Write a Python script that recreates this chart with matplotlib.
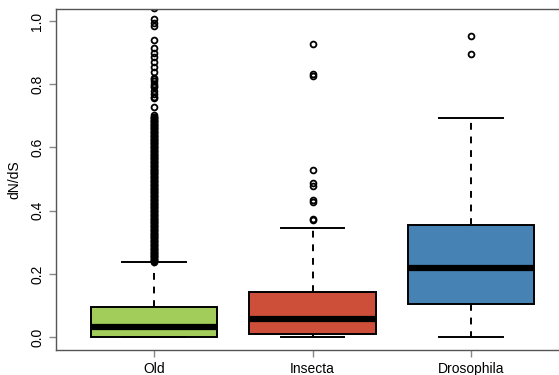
import numpy as np
import matplotlib
matplotlib.use('Agg')
import matplotlib.pyplot as plt

plt.rcParams.update({'font.family': ['Liberation Sans', 'DejaVu Sans'], 'font.size': 10})

groups = ['Old', 'Insecta', 'Drosophila']
colors = ['#A2CD5A', '#CD4F39', '#4682B4']

q1 = [0.0, 0.0085, 0.103]
med = [0.032, 0.057, 0.219]
q3 = [0.095, 0.143, 0.353]
whislo = [0.0, 0.0, 0.0]
whishi = [0.236, 0.345, 0.693]

# Old: sparse outliers at the top, then a dense run down to the whisker
old_fliers = [1.042, 1.006, 0.995, 0.984, 0.939, 0.914, 0.900, 0.885, 0.870,
              0.855, 0.840, 0.820, 0.815, 0.810, 0.800, 0.795, 0.790, 0.780,
              0.770, 0.760, 0.755, 0.729, 0.703,
              0.695, 0.690, 0.685, 0.680, 0.675, 0.670, 0.665, 0.660, 0.655,
              0.650, 0.645, 0.640, 0.635, 0.630, 0.625, 0.620, 0.615, 0.610,
              0.605, 0.600, 0.595, 0.590, 0.585, 0.580, 0.575, 0.570, 0.565,
              0.560, 0.555, 0.550, 0.545, 0.540, 0.535, 0.530, 0.525, 0.520,
              0.515, 0.510, 0.505, 0.500, 0.495, 0.490, 0.485, 0.480, 0.475,
              0.470, 0.465, 0.460, 0.455, 0.450, 0.445, 0.440, 0.435, 0.430,
              0.425, 0.420, 0.415, 0.410, 0.405, 0.400, 0.395, 0.390, 0.385,
              0.380, 0.375, 0.370, 0.365, 0.360, 0.355, 0.350, 0.345, 0.340,
              0.335, 0.330, 0.325, 0.320, 0.315, 0.310, 0.305, 0.300, 0.295,
              0.290, 0.285, 0.280, 0.275, 0.270, 0.265, 0.260, 0.255, 0.250,
              0.245, 0.240]
old_fliers_dense = [0.6975, 0.6925, 0.6875, 0.6825, 0.6775, 0.6725, 0.6675,
                    0.6625, 0.6575, 0.6525, 0.6475, 0.6425, 0.6375, 0.6325,
                    0.6275, 0.6225, 0.6175, 0.6125, 0.6075, 0.6025, 0.5975,
                    0.5925, 0.5875, 0.5825, 0.5775, 0.5725, 0.5675, 0.5625,
                    0.5575, 0.5525, 0.5475, 0.5425, 0.5375, 0.5325, 0.5275,
                    0.5225, 0.5175, 0.5125, 0.5075, 0.5025, 0.4975, 0.4925,
                    0.4875, 0.4825, 0.4775, 0.4725, 0.4675, 0.4625, 0.4575,
                    0.4525, 0.4475, 0.4425, 0.4375, 0.4325, 0.4275, 0.4225,
                    0.4175, 0.4125, 0.4075, 0.4025, 0.3975, 0.3925, 0.3875,
                    0.3825, 0.3775, 0.3725, 0.3675, 0.3625, 0.3575, 0.3525,
                    0.3475, 0.3425, 0.3375, 0.3325, 0.3275, 0.3225, 0.3175,
                    0.3125, 0.3075, 0.3025, 0.2975, 0.2925, 0.2875, 0.2825,
                    0.2775, 0.2725, 0.2675, 0.2625, 0.2575, 0.2525, 0.2475,
                    0.2425, 0.2375]
insecta_fliers = [0.928, 0.833, 0.826, 0.528, 0.487, 0.479, 0.435, 0.427, 0.375, 0.369]
dros_fliers = [0.953, 0.895]
fliers = [old_fliers + old_fliers_dense, insecta_fliers, dros_fliers]

stats = []
for i, g in enumerate(groups):
    stats.append(dict(label=g, q1=q1[i], med=med[i], q3=q3[i],
                      whislo=whislo[i], whishi=whishi[i], fliers=fliers[i]))

fig = plt.figure(figsize=(5.59, 3.75), dpi=100)
ax = fig.add_axes([56/559, 25/375, 513/559, 341/375])

bp = ax.bxp(stats, positions=[1, 2, 3], widths=0.8, patch_artist=True,
            boxprops=dict(edgecolor='black', linewidth=1.4),
            medianprops=dict(color='black', linewidth=4.5, solid_capstyle='butt'),
            whiskerprops=dict(color='black', linewidth=1.4, linestyle=(0, (3.5, 3.5))),
            capprops=dict(color='black', linewidth=1.4),
            capwidths=0.4,
            flierprops=dict(marker='o', markerfacecolor='none', markeredgecolor='black',
                            markersize=4.2, markeredgewidth=1.3))
for patch, c in zip(bp['boxes'], colors):
    patch.set_facecolor(c)

ax.set_xlim(0.382, 3.618)
ax.set_ylim(-0.041, 1.038)
ax.set_yticks([0.0, 0.2, 0.4, 0.6, 0.8, 1.0])
ax.set_yticklabels(['0.0', '0.2', '0.4', '0.6', '0.8', '1.0'], rotation=90, va='center')
ax.set_xticks([1, 2, 3])
ax.set_xticklabels(groups)
ax.set_ylabel('dN/dS', labelpad=6)
ax.tick_params(axis='both', colors='#888888', labelcolor='black', length=5, width=1)

for s in ['left', 'top', 'bottom', 'right']:
    ax.spines[s].set_color('#555555')
    ax.spines[s].set_linewidth(1.0)

fig.savefig('out.png', dpi=100)
